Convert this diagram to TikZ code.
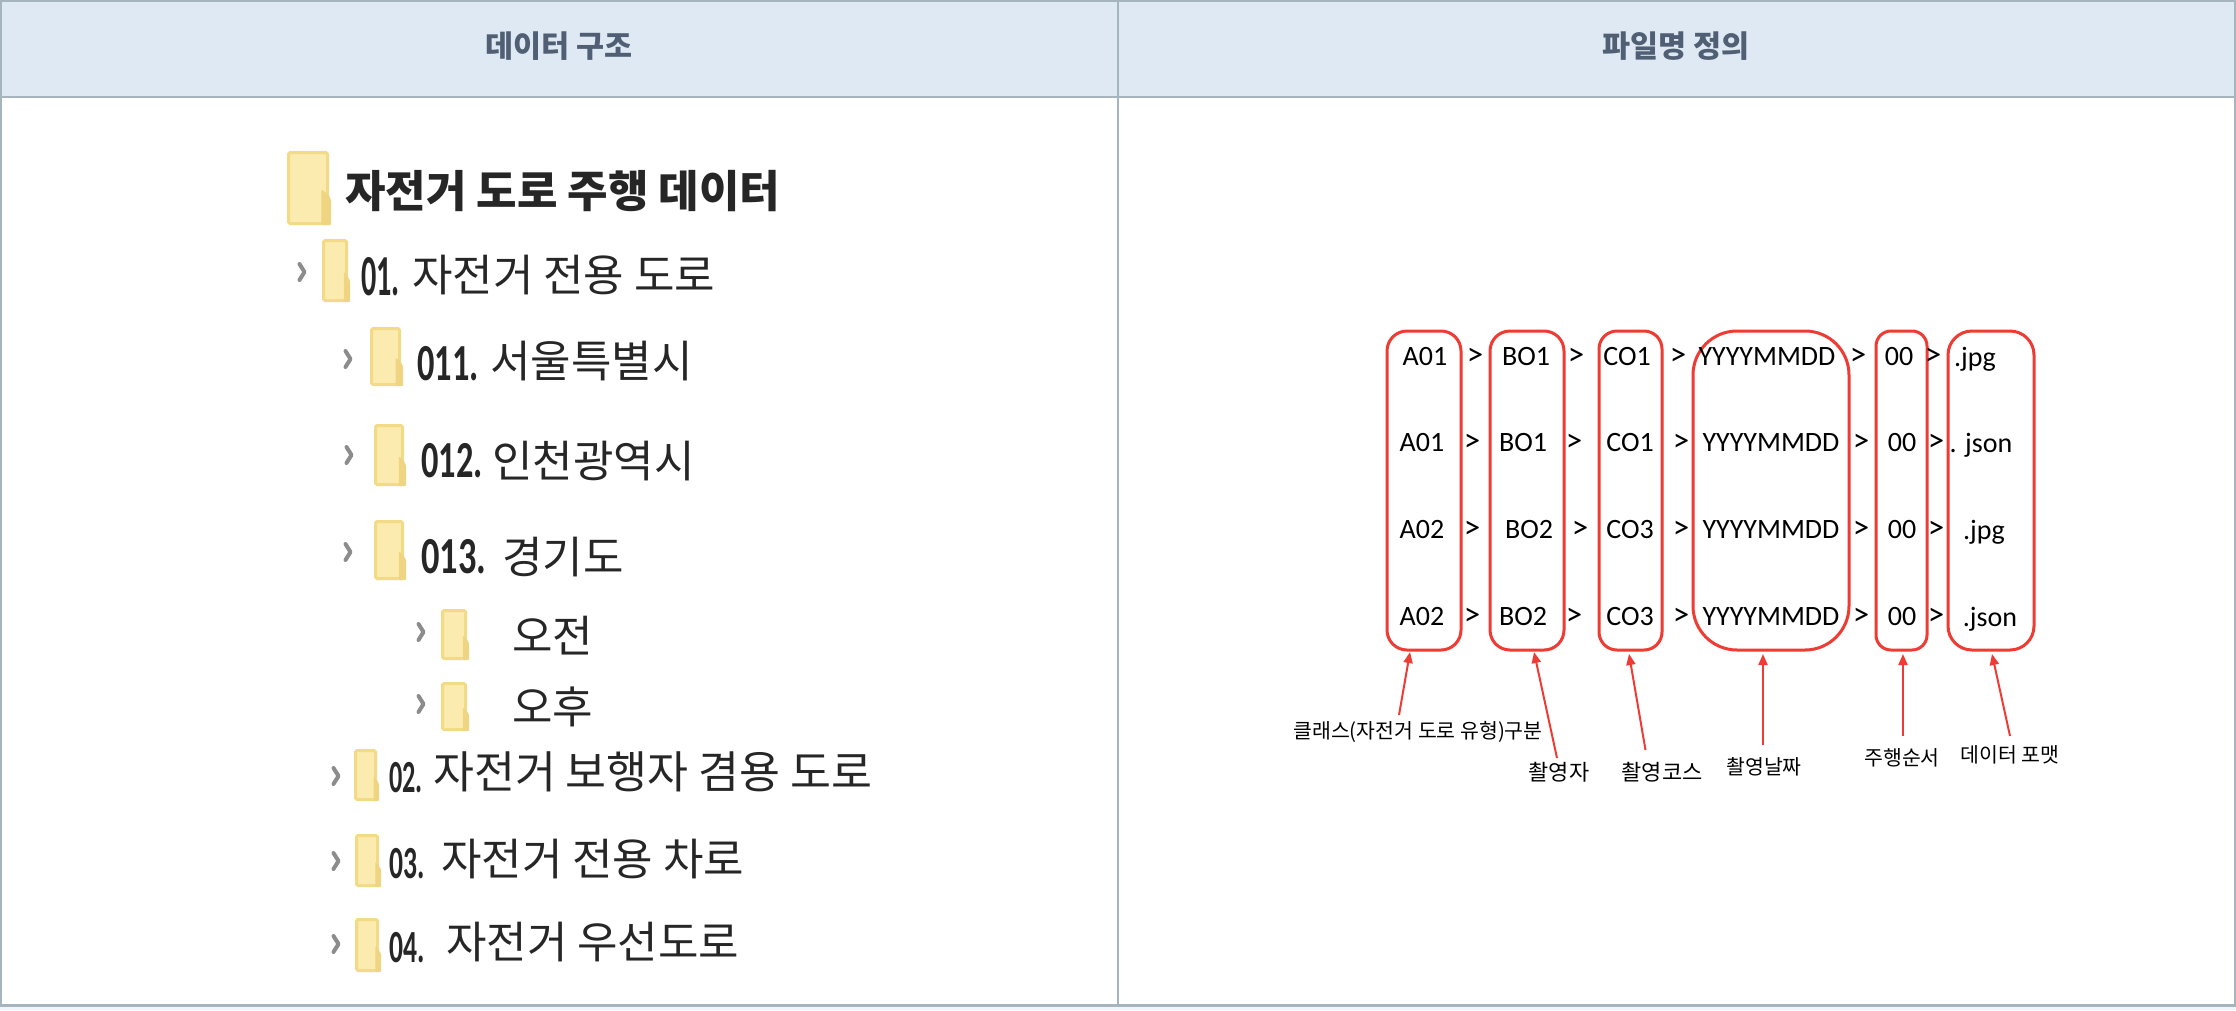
\documentclass[tikz,border=0pt]{standalone}
\usepackage{fontspec}
\setmainfont{Carlito}
\newfontfamily\kr{Noto Sans CJK KR}
\usetikzlibrary{arrows.meta}
\definecolor{tableline}{HTML}{A6B5BD}
\definecolor{headfill}{HTML}{DFE9F4}
\definecolor{headtext}{HTML}{505F73}
\definecolor{redline}{HTML}{EE3B33}
\definecolor{foldfill}{HTML}{FBEBAE}
\definecolor{foldedge}{HTML}{F3DA86}
\definecolor{foldtab}{HTML}{EFD581}
\definecolor{treeink}{HTML}{262626}
\definecolor{chev}{HTML}{8C8C8C}
\definecolor{pagebelow}{HTML}{F1F5F9}
\tikzset{
  headtitle/.style={font=\kr\bfseries\fontsize{30.5}{30.5}\selectfont,text=headtext,inner sep=0pt},
  redbox/.style={draw=redline,line width=3pt,minimum height=319pt,inner sep=0pt,outer sep=0pt,fill=none},
  cell/.style={font=\fontsize{28}{28}\selectfont,text=black,inner sep=0pt},
  sep/.style={font=\fontsize{33}{33}\selectfont,text=black,inner sep=0pt},
  note/.style={font=\kr\fontsize{20.5}{20.5}\selectfont,text=black,inner sep=0pt},
  bignote/.style={font=\kr\fontsize{22}{22}\selectfont,text=black,inner sep=0pt},
  pointer/.style={draw=redline,line width=2pt,-{Triangle[length=11pt,width=9pt]}},
  treetext/.style={font=\kr\fontsize{44}{44}\selectfont,text=treeink,inner sep=0pt,anchor=west},
  widetext/.style={font=\kr\fontsize{44.5}{44.5}\selectfont,text=treeink,inner sep=0pt,anchor=west},
  roottext/.style={font=\kr\bfseries\fontsize{44}{44}\selectfont,text=treeink,inner sep=0pt,anchor=west},
  treenum/.style={font=\bfseries\fontsize{#1}{#1}\selectfont,text=treeink,inner sep=0pt,anchor=west},
  chevron/.style={draw=chev,line width=4pt,line cap=round,line join=round},
}
\newcommand{\fold}[4]{%
  \fill[foldfill,draw=foldedge,line width=3pt,rounded corners=1.5pt] (#1+1.5,#2+1.5) rectangle (#3-3.5,#4-1.5);
  \fill[foldtab,rounded corners=1pt] ({#3-0.22*(#3-#1)},{#2+0.52*(#4-#2)}) -- (#3-3,{#2+0.58*(#4-#2)}) -- (#3,{#2+0.66*(#4-#2)}) -- (#3,#4) -- ({#3-0.22*(#3-#1)},#4) -- cycle;
}
\newcommand{\chv}[2]{\draw[chevron] (#1-2.5,#2-8) -- (#1+2.5,#2) -- (#1-2.5,#2+8);}
\newcommand{\nm}[2]{\scalebox{#1}[1]{#2}}
\begin{document}
\begin{tikzpicture}[x=1pt,y=-1pt]
\useasboundingbox (0,0) rectangle (2236,1010);
\fill[white] (0,0) rectangle (2236,1010);
\fill[pagebelow] (0,1006) rectangle (2236,1010);
% table
\fill[headfill] (0,0) rectangle (2236,97);
\draw[tableline,line width=2.5pt] (0,97) -- (2236,97);
\draw[tableline,line width=2.5pt] (1,1) rectangle (2235,1005.5);
\draw[tableline,line width=1.5pt] (1118,0) -- (1118,1005);
\node[headtitle] (h1) at (559,46) {데이터 구조};
\node[headtitle] (h2) at (1676,46) {파일명 정의};
% tree
\fold{287}{151}{331}{225}
\node[roottext] (root) at (345,191) {자전거 도로 주행 데이터};
\chv{302}{272}\fold{322}{239}{350}{302}
\node[treenum=58] (n01) at (361,277) {\nm{0.52}{01.}};
\node[treetext] (t01) at (412,275) {자전거 전용 도로};
\chv{348}{359}\fold{370}{327}{403}{386}
\node[treenum=52] (n011) at (417,364) {\nm{0.66}{011.}};
\node[treetext] (t011) at (490,361) {서울특별시};
\chv{349}{455}\fold{374}{424}{406}{486}
\node[treenum=52] (n012) at (421,461) {\nm{0.66}{012.}};
\node[treetext] (t012) at (492,461) {인천광역시};
\chv{348}{552}\fold{374}{520}{406}{580}
\node[treenum=52] (n013) at (421,557) {\nm{0.7}{013.}};
\node[treetext] (t013) at (502,557) {경기도};
\chv{421}{632}\fold{441}{609}{469}{660}
\node[treetext] (t1) at (512,636) {오전};
\chv{421}{704}\fold{441}{682}{469}{731}
\node[treetext] (t2) at (512,707) {오후};
\chv{336}{776}\fold{354}{749}{379}{801}
\node[treenum=46] (n02) at (389,778) {\nm{0.57}{02.}};
\node[widetext] (t02) at (433,772) {자전거 보행자 겸용 도로};
\chv{336}{861}\fold{355}{834}{381}{887}
\node[treenum=46] (n03) at (389,864) {\nm{0.6}{03.}};
\node[treetext] (t03) at (441,859) {자전거 전용 차로};
\chv{336}{944}\fold{355}{918}{381}{972}
\node[treenum=46] (n04) at (389,948) {\nm{0.6}{04.}};
\node[treetext] (t04) at (446,942) {자전거 우선도로};
% red boxes
\node[redbox,minimum width=74pt,rounded corners=20pt] (boxA) at (1424,490.5) {};
\node[redbox,minimum width=74pt,rounded corners=20pt] (boxB) at (1527,490.5) {};
\node[redbox,minimum width=63pt,rounded corners=18pt] (boxC) at (1630.5,490.5) {};
\node[redbox,minimum width=156pt,rounded corners=44pt] (boxD) at (1771,490.5) {};
\node[redbox,minimum width=51pt,rounded corners=15pt] (boxE) at (1901.5,490.5) {};
\node[redbox,minimum width=86pt,rounded corners=24pt] (boxF) at (1991,490.5) {};
% row 1
\node[cell] (a1) at (1425,357) {A01};
\node[sep] (s11) at (1475,357) {>};
\node[cell] (b1) at (1526,357) {BO1};
\node[sep] (s12) at (1576,357) {>};
\node[cell] (c1) at (1627,357) {CO1};
\node[sep] (s13) at (1678,357) {>};
\node[cell] (d1) at (1767,357) {YYYYMMDD};
\node[sep] (s14) at (1858,357) {>};
\node[cell] (e1) at (1899,357) {00};
\node[sep] (s15) at (1933,357) {>};
\node[cell] (f1) at (1975,359) {.jpg};
% row 2
\node[cell] (a2) at (1422,443) {A01};
\node[sep] (s21) at (1472,443) {>};
\node[cell] (b2) at (1523,443) {BO1};
\node[sep] (s22) at (1574,443) {>};
\node[cell] (c2) at (1630,443) {CO1};
\node[sep] (s23) at (1681,443) {>};
\node[cell] (d2) at (1771,443) {YYYYMMDD};
\node[sep] (s24) at (1861,443) {>};
\node[cell] (e2) at (1902,443) {00};
\node[sep] (s25) at (1936,443) {>};
\node[cell] (f2) at (1981,445) {. json};
% row 3
\node[cell] (a3) at (1422,530) {A02};
\node[sep] (s31) at (1472,530) {>};
\node[cell] (b3) at (1529,530) {BO2};
\node[sep] (s32) at (1580,530) {>};
\node[cell] (c3) at (1630,530) {CO3};
\node[sep] (s33) at (1681,530) {>};
\node[cell] (d3) at (1771,530) {YYYYMMDD};
\node[sep] (s34) at (1861,530) {>};
\node[cell] (e3) at (1902,530) {00};
\node[sep] (s35) at (1936,530) {>};
\node[cell] (f3) at (1984,532) {.jpg};
% row 4
\node[cell] (a4) at (1422,617) {A02};
\node[sep] (s41) at (1472,617) {>};
\node[cell] (b4) at (1523,617) {BO2};
\node[sep] (s42) at (1574,617) {>};
\node[cell] (c4) at (1630,617) {CO3};
\node[sep] (s43) at (1681,617) {>};
\node[cell] (d4) at (1771,617) {YYYYMMDD};
\node[sep] (s44) at (1861,617) {>};
\node[cell] (e4) at (1902,617) {00};
\node[sep] (s45) at (1936,617) {>};
\node[cell] (f4) at (1990,619) {.json};
% labels
\node[note] (la) at (1418,732) {클래스(자전거 도로 유형)구분};
\node[bignote] (lb) at (1559,772) {촬영자};
\node[bignote] (lc) at (1662,772) {촬영코스};
\node[note] (ld) at (1764,767) {촬영날짜};
\node[note] (le) at (1902,758) {주행순서};
\node[note] (lf) at (2010,755) {데이터 포맷};
\coordinate (sa) at (1399,715);
\coordinate (sb) at (1557,758);
\coordinate (sc) at (1645.5,750);
\coordinate (sd) at (1763,745);
\coordinate (se) at (1903,736);
\coordinate (sf) at (2010,736);
\draw[pointer] (sa) -- ([xshift=-14pt,yshift=-2pt]boxA.south);
\draw[pointer] (sb) -- ([xshift=7pt,yshift=-2pt]boxB.south);
\draw[pointer] (sc) -- ([xshift=-1.5pt,yshift=-4pt]boxC.south);
\draw[pointer] (sd) -- ([xshift=-8pt,yshift=-4pt]boxD.south);
\draw[pointer] (se) -- ([xshift=1.5pt,yshift=-4pt]boxE.south);
\draw[pointer] (sf) -- ([xshift=1pt,yshift=-4pt]boxF.south);
\end{tikzpicture}
\end{document}
